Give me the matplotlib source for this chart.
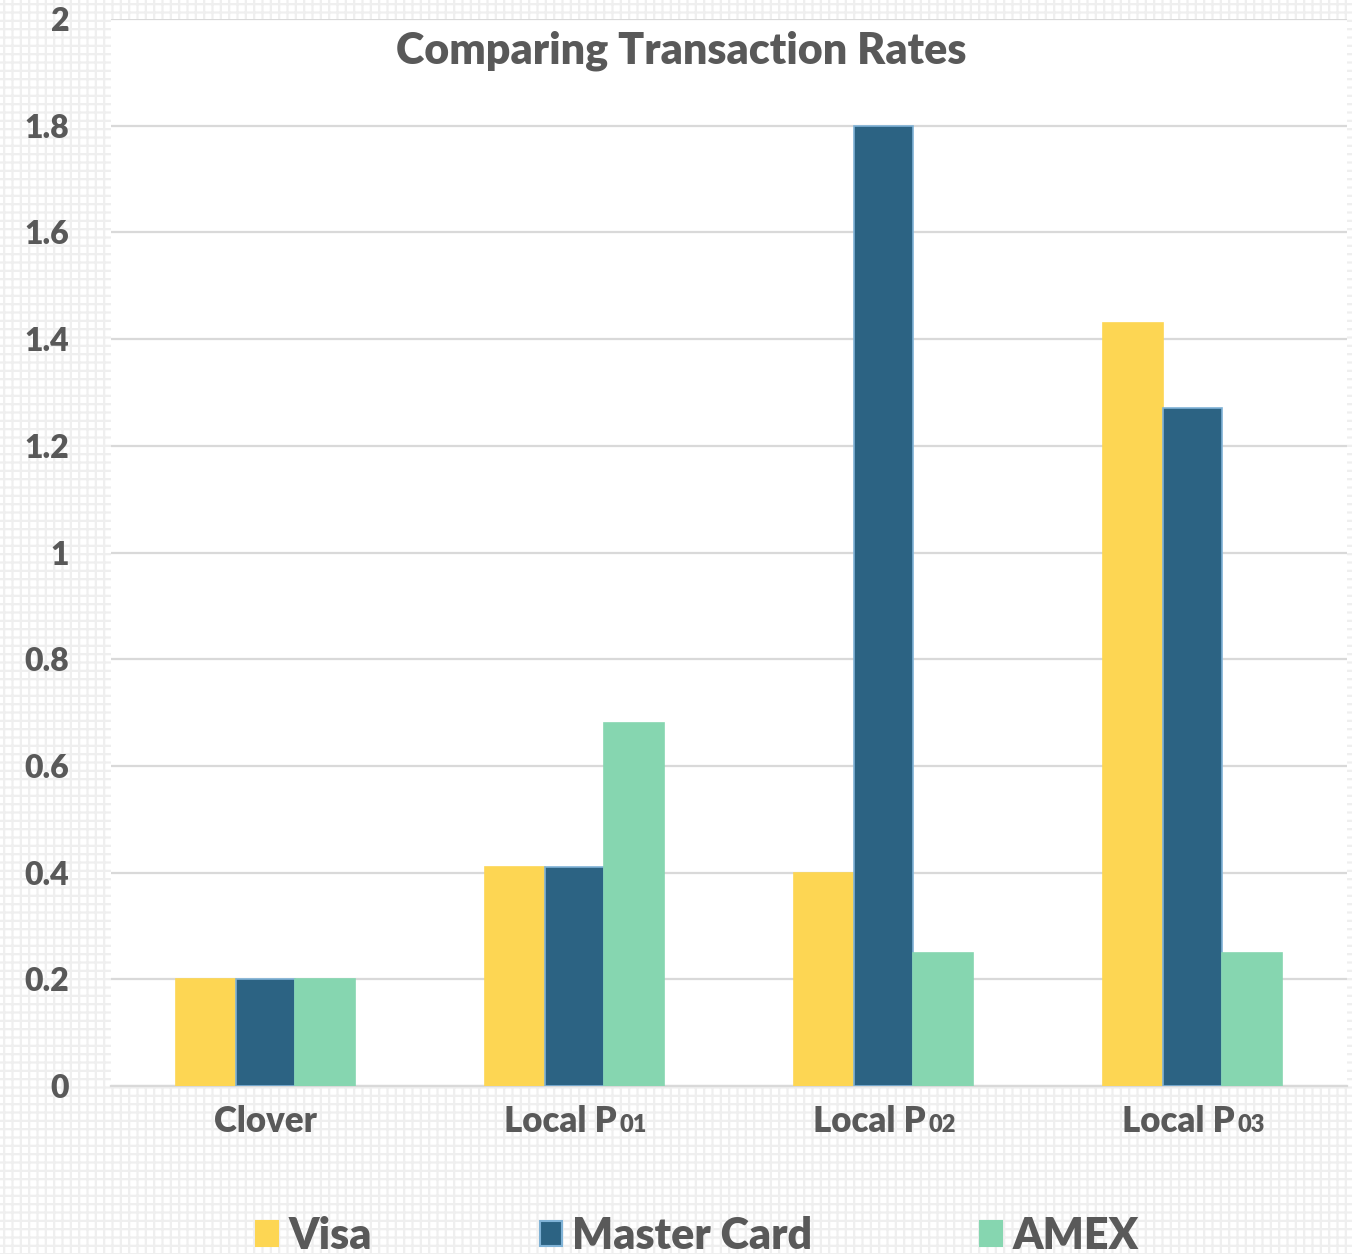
import matplotlib.pyplot as plt
import numpy as np
from matplotlib.patches import Patch, Rectangle
from matplotlib.ticker import FuncFormatter

categories = ['Clover', 'Local P01', 'Local P02', 'Local P03']
series = ['Visa', 'Master Card', 'AMEX']
visa = [0.2, 0.41, 0.40, 1.43]
master = [0.2, 0.41, 1.80, 1.27]
amex = [0.2, 0.68, 0.25, 0.25]

colors = ['#fdd653', '#2c6383', '#86d6b0']
edges = ['#fdd653', '#7fb2d6', '#86d6b0']
txt = '#595959'
W = 'heavy'

plt.rcParams['font.family'] = ['Lato', 'DejaVu Sans']
plt.rcParams['hatch.linewidth'] = 1.6

fig = plt.figure(figsize=(13.52, 12.54), dpi=100)

# patterned background
bg = fig.add_axes([0, 0, 1, 1], zorder=-5)
bg.add_patch(Rectangle((0, 0), 1, 1, facecolor='white', edgecolor='#efefef',
                       hatch='++', linewidth=0))
bg.set_xlim(0, 1)
bg.set_ylim(0, 1)
bg.axis('off')

ax = fig.add_axes([0.0821, 0.134, 0.9142, 0.8508])
ax.set_facecolor('white')

x = np.arange(len(categories))
w = 0.193
for i, (vals, c, e) in enumerate(zip([visa, master, amex], colors, edges)):
    ax.bar(x + (i - 1) * w, vals, w, color=c, edgecolor=e, linewidth=1.2,
           zorder=3, label=series[i])

ax.set_xlim(-0.5, 3.5)
ax.set_ylim(0, 2)
ax.set_yticks(np.arange(0, 2.01, 0.2))
ax.yaxis.set_major_formatter(FuncFormatter(lambda v, p: f'{v:.1f}'.rstrip('0').rstrip('.')))
ax.grid(axis='y', color='#d9d9d9', linewidth=1.6, zorder=0)
ax.tick_params(axis='y', length=0, pad=30, labelsize=23, labelcolor=txt)
for lab in ax.get_yticklabels():
    lab.set_fontweight(W)
ax.tick_params(axis='x', length=0, labelbottom=False)
for s in ['top', 'left', 'right']:
    ax.spines[s].set_visible(False)
ax.spines['bottom'].set_color('#d9d9d9')
ax.spines['bottom'].set_linewidth(1.6)

# category labels with small trailing digits
for xi, cat in zip(x, categories):
    head = cat.rstrip('0123456789')
    tail = cat[len(head):]
    t = ax.text(xi - (0.045 if tail else 0), -0.043, head, ha='center', va='baseline',
                fontsize=25, fontweight=W, color=txt, transform=ax.get_xaxis_transform())
    if tail:
        ax.annotate(tail, xy=(1, 0), xycoords=t, xytext=(2, 1),
                    textcoords='offset points', ha='left', va='bottom',
                    fontsize=17, fontweight=W, color=txt)

fig.text(0.504, 0.949, 'Comparing Transaction Rates', ha='center', va='baseline',
         fontsize=31, fontweight=W, color=txt)

handles = [Patch(facecolor=c, edgecolor=e, linewidth=1.5) for c, e in zip(colors, edges)]
leg = fig.legend(handles, series, loc='center', bbox_to_anchor=(0.516, 0.0145), ncol=3,
                 frameon=False, prop={'size': 31, 'weight': W}, handlelength=0.5,
                 handleheight=0.5, handletextpad=0.25, columnspacing=3.9)
for t in leg.get_texts():
    t.set_color(txt)

plt.savefig('out.png', dpi=100)
